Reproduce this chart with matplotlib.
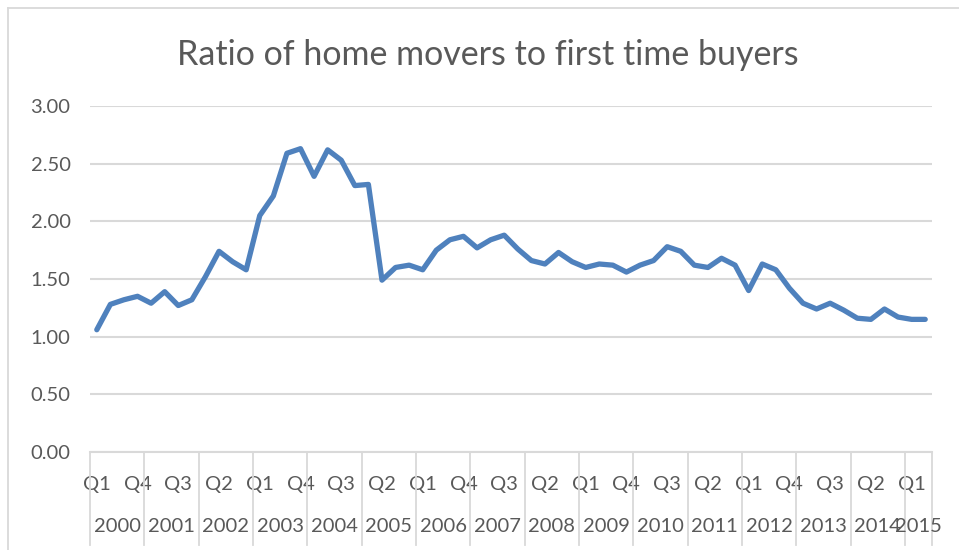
import matplotlib
matplotlib.use("Agg")
import matplotlib.pyplot as plt
import matplotlib.transforms as mtransforms

plt.rcParams['font.family'] = ['Lato', 'DejaVu Sans']

title = "Ratio of home movers to first time buyers"
years = [2000, 2001, 2002, 2003, 2004, 2005, 2006, 2007,
         2008, 2009, 2010, 2011, 2012, 2013, 2014, 2015]
quarters_per_year = [4] * 15 + [2]
quarter_names = ["Q1", "Q2", "Q3", "Q4"]
ratio = [
    1.06, 1.28, 1.32, 1.35, 1.29, 1.39, 1.27, 1.32,   # 2000-2001
    1.52, 1.74, 1.65, 1.58, 2.05, 2.22, 2.59, 2.63,   # 2002-2003
    2.39, 2.62, 2.53, 2.31, 2.32, 1.49, 1.60, 1.62,   # 2004-2005
    1.58, 1.75, 1.84, 1.87, 1.77, 1.84, 1.88, 1.76,   # 2006-2007
    1.66, 1.63, 1.73, 1.65, 1.60, 1.63, 1.62, 1.56,   # 2008-2009
    1.62, 1.66, 1.78, 1.74, 1.62, 1.60, 1.68, 1.62,   # 2010-2011
    1.40, 1.63, 1.58, 1.42, 1.29, 1.24, 1.29, 1.23,   # 2012-2013
    1.16, 1.15, 1.24, 1.17, 1.15, 1.15,               # 2014-2015 Q2
]
y_ticks = [0.0, 0.5, 1.0, 1.5, 2.0, 2.5, 3.0]

text_color = "#595959"
grid_color = "#D9D9D9"
line_color = "#4F81BD"

# category labels
q_labels = []
for n in quarters_per_year:
    q_labels += quarter_names[:n]
x = list(range(len(ratio)))

fig = plt.figure(figsize=(9.59, 5.5), dpi=100)
ax = fig.add_axes([90 / 959, 98 / 550, 842 / 959, 346 / 550])

# chart frame (top and left edges visible)
fig.add_artist(plt.Line2D([8 / 959, 1.0], [1 - 7.5 / 550, 1 - 7.5 / 550],
                          transform=fig.transFigure, color=grid_color, lw=1.3))
fig.add_artist(plt.Line2D([8 / 959, 8 / 959], [0.0, 1 - 7.5 / 550],
                          transform=fig.transFigure, color=grid_color, lw=1.3))

ax.plot(x, ratio, color=line_color, lw=3.8, solid_joinstyle="round",
        solid_capstyle="round", zorder=3)

ax.set_xlim(-0.5, len(ratio) - 0.5)
ax.set_ylim(0, 3.0)
ax.set_yticks(y_ticks)
ax.set_yticklabels([f"{v:.2f}" for v in y_ticks])
ax.yaxis.grid(True, color=grid_color, lw=1.5)
ax.set_axisbelow(True)
for s in ["top", "right", "left"]:
    ax.spines[s].set_visible(False)
ax.spines["bottom"].set_color(grid_color)
ax.spines["bottom"].set_linewidth(1.5)
ax.tick_params(axis="y", length=0, pad=14, labelsize=14.5, labelcolor=text_color)

ax.set_xticks(x[::3])
ax.set_xticklabels(q_labels[::3])
ax.tick_params(axis="x", length=0, pad=17, labelsize=14.5, labelcolor=text_color)

# year level labels and separators
trans = mtransforms.blended_transform_factory(ax.transData, ax.transAxes)
start = 0
bounds = [start - 0.5]
for yr, n in zip(years, quarters_per_year):
    center = start + (n - 1) / 2
    ax.text(center, -0.214, str(yr), transform=trans, ha="center", va="center",
            fontsize=14.5, color=text_color)
    start += n
    bounds.append(start - 0.5)
for b in bounds:
    ax.plot([b, b], [0, -0.27], transform=trans, color=grid_color, lw=1.3,
            clip_on=False)

fig.text(0.509, 1 - 55 / 550, title, ha="center", va="center",
         fontsize=24.5, color=text_color)

fig.savefig("out.png", dpi=100)
